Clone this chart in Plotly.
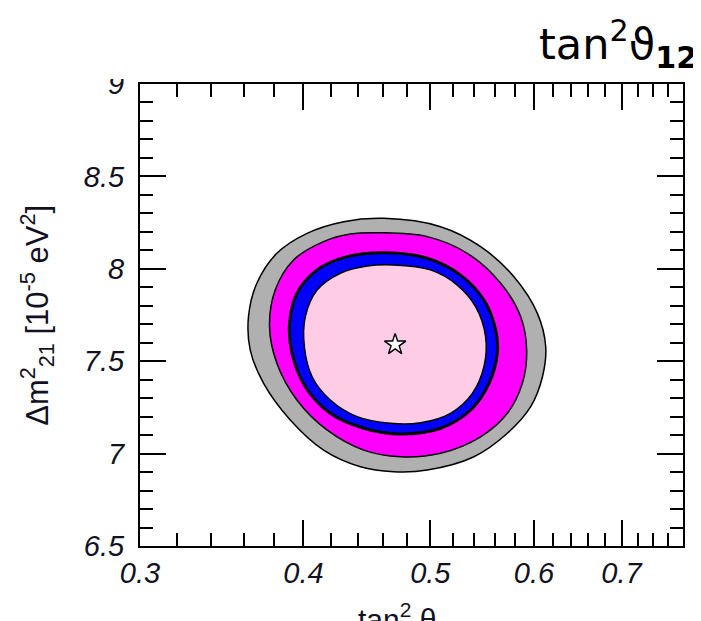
import plotly.graph_objects as go

# Contour boundaries (tan^2 theta12, dm^2_21 [1e-5 eV^2])
gray_x = [0.4607, 0.5091, 0.5463, 0.5793, 0.6037, 0.6126, 0.6091, 0.5966, 0.5726, 0.5399, 0.4973,
          0.4688, 0.4421, 0.4144, 0.3908, 0.3729, 0.3642, 0.3631, 0.3685, 0.3817, 0.4025, 0.4293]
gray_y = [8.273, 8.228, 8.120, 7.957, 7.759, 7.578, 7.416, 7.254, 7.110, 6.983, 6.911,
          6.902, 6.929, 7.019, 7.182, 7.380, 7.561, 7.741, 7.922, 8.084, 8.192, 8.255]

mag_x = [0.4580, 0.4973, 0.5336, 0.5659, 0.5862, 0.5924, 0.5879, 0.5726, 0.5463, 0.5091,
         0.4744, 0.4447, 0.4169, 0.3954, 0.3817, 0.3768, 0.3806, 0.3931, 0.4144, 0.4344]
mag_y = [8.195, 8.174, 8.084, 7.922, 7.741, 7.561, 7.380, 7.218, 7.091, 7.002,
         6.983, 7.019, 7.128, 7.290, 7.489, 7.687, 7.885, 8.048, 8.147, 8.188]

blue_x = [0.4634, 0.4973, 0.5273, 0.5495, 0.5610, 0.5626, 0.5544, 0.5368, 0.5091,
          0.4744, 0.4447, 0.4193, 0.4013, 0.3920, 0.3903, 0.3954, 0.4097, 0.4319]
blue_y = [8.087, 8.057, 7.966, 7.831, 7.669, 7.543, 7.380, 7.236, 7.137,
          7.106, 7.137, 7.218, 7.362, 7.543, 7.705, 7.867, 7.994, 8.066]

pink_x = [0.4688, 0.5002, 0.5243, 0.5415, 0.5511, 0.5495, 0.5384, 0.5181, 0.4915,
          0.4661, 0.4396, 0.4193, 0.4061, 0.4006, 0.4013, 0.4097, 0.4268, 0.4474]
pink_y = [8.021, 7.994, 7.912, 7.795, 7.633, 7.470, 7.326, 7.218, 7.167,
          7.164, 7.200, 7.290, 7.416, 7.578, 7.741, 7.885, 7.976, 8.015]

best_x = [0.470]
best_y = [7.59]

x_ticks = [0.3, 0.4, 0.5, 0.6, 0.7]
x_ticktext = ["0.3", "0.4", "0.5", "0.6", "0.7"]
x_minor = [0.32, 0.34, 0.36, 0.38, 0.42, 0.44, 0.46, 0.48, 0.52, 0.54, 0.56, 0.58,
           0.62, 0.64, 0.66, 0.68, 0.72, 0.74, 0.76]
y_ticks = [6.5, 7, 7.5, 8, 8.5, 9]
y_ticktext = ["6.5", "7", "7.5", "8", "8.5", "9"]

def closed(a):
    return list(a) + [a[0]]

fig = go.Figure()
bands = [
    (gray_x, gray_y, "#b0b0b0", 1.5),
    (mag_x, mag_y, "#ff00ff", 1.5),
    (blue_x, blue_y, "#0000ff", 3),
    (pink_x, pink_y, "#ffcce6", 1.5),
]
for bx, by, col, lw in bands:
    fig.add_trace(go.Scatter(
        x=closed(bx), y=closed(by), mode="lines", fill="toself",
        fillcolor=col, line=dict(color="black", width=lw, shape="spline", smoothing=1.0),
        hoverinfo="skip", showlegend=False))

fig.add_trace(go.Scatter(
    x=best_x, y=best_y, mode="markers",
    marker=dict(symbol="star", size=16, color="white", line=dict(color="black", width=1.5)),
    showlegend=False))

tickfont = dict(family="Liberation Sans, Arial, sans-serif", size=29, color="#111122", style="italic")

fig.update_layout(
    width=701, height=621,
    margin=dict(l=132, r=26, t=76, b=83),
    paper_bgcolor="white", plot_bgcolor="white",
    xaxis=dict(
        type="log", range=[-0.52288, -0.10791],
        tickvals=x_ticks, ticktext=x_ticktext,
        ticks="inside", ticklen=26, tickwidth=2, tickcolor="black",
        showline=True, linewidth=2, linecolor="black", mirror="ticks",
        showgrid=False, zeroline=False, tickfont=tickfont, ticklabelstandoff=0,
        minor=dict(tickvals=x_minor, ticks="inside", ticklen=13, tickwidth=2,
                   tickcolor="black", showgrid=False),
    ),
    yaxis=dict(
        range=[6.5, 9], tickvals=y_ticks, ticktext=y_ticktext,
        ticks="inside", ticklen=26, tickwidth=2, tickcolor="black",
        showline=True, linewidth=2, linecolor="black", mirror="ticks",
        showgrid=False, zeroline=False, tickfont=tickfont, ticklabelstandoff=8,
        minor=dict(dtick=0.1, ticks="inside", ticklen=13, tickwidth=2,
                   tickcolor="black", showgrid=False),
    ),
)

# cover top of the "9" label as in the reference
fig.add_shape(type="rect", xref="paper", yref="paper", x0=-0.2, x1=-0.004, y0=1.011, y1=1.3,
              fillcolor="white", line=dict(width=0), layer="above")

fig.add_annotation(
    text="tan<sup>2</sup>ϑ<sub><b>12</b></sub>", xref="paper", yref="paper",
    x=1.0295, y=1.086, xanchor="right", yanchor="middle", showarrow=False,
    font=dict(family="DejaVu Sans", size=43, color="black"))

fig.add_annotation(
    text="Δm<sup>2</sup><sub>21</sub> [10<sup>-5</sup> eV<sup>2</sup>]", xref="paper", yref="paper",
    x=-0.19, y=0.5, xanchor="center", yanchor="middle", textangle=-90, showarrow=False,
    font=dict(family="Liberation Sans, Arial, sans-serif", size=31, color="#111122"))

fig.add_annotation(
    text="tan<sup>2</sup> θ", xref="paper", yref="paper",
    x=0.473, y=-0.108, xanchor="center", yanchor="top", showarrow=False,
    font=dict(family="Liberation Sans, Arial, sans-serif", size=30, color="#111122"))

fig.write_html("out.html")
